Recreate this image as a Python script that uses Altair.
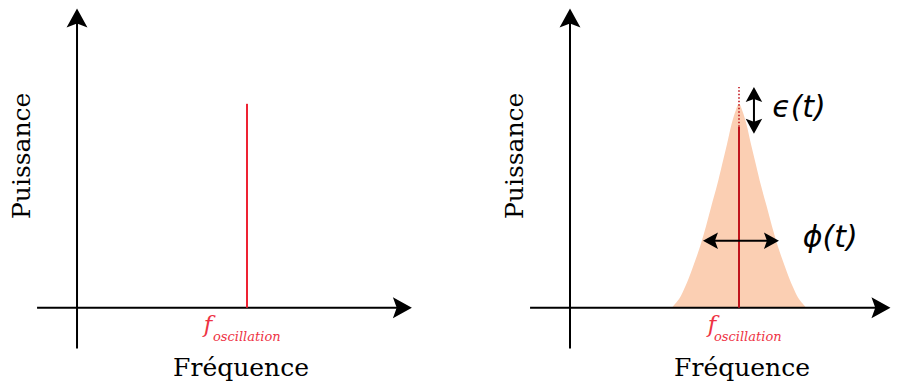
import altair as alt
import pandas as pd

# ---------------- values (frequency units: origin 0, f_osc ~ 1; power units: peak ~ 1)
f_osc = [1.0, 0.994]                 # left panel, right panel
line_top = [1.0, 0.887]              # top of solid red line (left, right)
dotted_top = 1.083                   # dotted continuation (right panel)
spec_freq = [0.600, 0.620, 0.647, 0.676, 0.723, 0.765, 0.800, 0.832, 0.865, 0.894,
             0.923, 0.950, 0.976, 0.994,
             1.012, 1.038, 1.065, 1.094, 1.123, 1.156, 1.188, 1.223, 1.265, 1.312,
             1.341, 1.368, 1.388]
spec_power = [0.0, 0.02, 0.05, 0.1, 0.2, 0.3, 0.4, 0.5, 0.6, 0.7,
              0.8, 0.9, 0.97, 1.0,
              0.97, 0.9, 0.8, 0.7, 0.6, 0.5, 0.4, 0.3, 0.2, 0.1,
              0.05, 0.02, 0.0]
eps_range = [0.853, 1.083]           # epsilon(t) arrow (power units)
eps_x = 1.082
phi_range = [0.782, 1.229]           # phi(t) arrow (frequency units)
phi_y = 0.328

x_label = "Fréquence"
y_label = "Puissance"
f_main = "f"
f_sub = "oscillation"
eps_label = "ϵ(t)"
phi_label = "ϕ(t)"

# ---------------- layout constants
XDOM = {"L": [-0.406, 2.0], "R": [-0.4, 1.894]}
WID = {"L": 409, "R": 390}
YDOM = [-0.34, 1.47]
HEIGHT = 369
AX_X0, AX_Y0 = -0.235, -0.2
AX_XTIP = {"L": 1.97, "R": 1.885}
AX_YTIP = 1.468
FLAB = {"L": (0.771, 0.8), "R": (0.835, 0.847)}
XLAB_X = {"L": 0.965, "R": 1.012}

RED = {"L": "#ee2233", "R": "#c0141c"}
TXT_RED = "#ee3344"
PEACH = "#fbcfb3"
ARROW = "M0,0 L1.1,2 L0,1.6 L-1.1,2 Z"


def panel(side):
    xs = alt.Scale(domain=XDOM[side], nice=False, zero=False)
    ys = alt.Scale(domain=YDOM, nice=False, zero=False)
    X = lambda f: alt.X(f, type="quantitative", scale=xs, axis=None)
    Y = lambda f: alt.Y(f, type="quantitative", scale=ys, axis=None)
    layers = []
    i = 0 if side == "L" else 1

    if side == "R":
        area = pd.DataFrame({"x": spec_freq, "y": spec_power})
        layers.append(alt.Chart(area).mark_area(color=PEACH, interpolate="monotone", opacity=1)
                      .encode(x=X("x"), y=Y("y")))

    # axes lines
    xtip, ytip = AX_XTIP[side], AX_YTIP
    axes = pd.DataFrame({
        "x": [AX_X0, 0.0], "x2": [xtip - 0.06, 0.0],
        "y": [0.0, AX_Y0], "y2": [0.0, ytip - 0.05]})
    layers.append(alt.Chart(axes).mark_rule(color="black", strokeWidth=2)
                  .encode(x=X("x"), x2="x2", y=Y("y"), y2="y2"))
    heads = pd.DataFrame({"x": [xtip, 0.0], "y": [0.0, ytip], "a": [90, 0]})
    layers.append(alt.Chart(heads).mark_point(shape=ARROW, filled=True, color="black",
                                              opacity=1, size=361, strokeWidth=0)
                  .encode(x=X("x"), y=Y("y"), angle=alt.Angle("a:Q", scale=None)))

    # red line
    red = pd.DataFrame({"x": [f_osc[i]], "y": [0.0], "y2": [line_top[i]]})
    layers.append(alt.Chart(red).mark_rule(color=RED[side], strokeWidth=2)
                  .encode(x=X("x"), y=Y("y"), y2="y2"))
    if side == "R":
        dot = pd.DataFrame({"x": [f_osc[i]], "y": [line_top[i]], "y2": [dotted_top]})
        layers.append(alt.Chart(dot).mark_rule(color=RED[side], strokeWidth=1.6, strokeDash=[1.5, 2])
                      .encode(x=X("x"), y=Y("y"), y2="y2"))
        # epsilon arrow
        ea = pd.DataFrame({"x": [eps_x], "y": [eps_range[0] + 0.05], "y2": [eps_range[1] - 0.05]})
        layers.append(alt.Chart(ea).mark_rule(color="black", strokeWidth=2)
                      .encode(x=X("x"), y=Y("y"), y2="y2"))
        # phi arrow
        pa = pd.DataFrame({"x": [phi_range[0] + 0.05], "x2": [phi_range[1] - 0.05], "y": [phi_y]})
        layers.append(alt.Chart(pa).mark_rule(color="black", strokeWidth=2)
                      .encode(x=X("x"), x2="x2", y=Y("y")))
        sh = pd.DataFrame({"x": [eps_x, eps_x, phi_range[0], phi_range[1]],
                           "y": [eps_range[1], eps_range[0], phi_y, phi_y],
                           "a": [0, 180, 270, 90]})
        layers.append(alt.Chart(sh).mark_point(shape=ARROW, filled=True, color="black",
                                               opacity=1, size=225, strokeWidth=0)
                      .encode(x=X("x"), y=Y("y"), angle=alt.Angle("a:Q", scale=None)))
        tx = pd.DataFrame({"x": [1.347, 1.53], "y": [0.98, 0.343], "t": [eps_label, phi_label]})
        layers.append(alt.Chart(tx).mark_text(font="DejaVu Sans", fontSize=30, fontStyle="italic",
                                              color="black", align="center", baseline="middle")
                      .encode(x=X("x"), y=Y("y"), text="t:N"))

    # f_oscillation label
    fx, sx = FLAB[side]
    fm = pd.DataFrame({"x": [fx], "y": [-0.083], "t": [f_main]})
    layers.append(alt.Chart(fm).mark_text(font="DejaVu Serif", fontStyle="italic", fontSize=23,
                                          color=TXT_RED, align="center", baseline="middle")
                  .encode(x=X("x"), y=Y("y"), text="t:N"))
    fs = pd.DataFrame({"x": [sx], "y": [-0.142], "t": [f_sub]})
    layers.append(alt.Chart(fs).mark_text(font="DejaVu Serif", fontStyle="italic", fontSize=13,
                                          color=TXT_RED, align="left", baseline="middle")
                  .encode(x=X("x"), y=Y("y"), text="t:N"))

    # axis titles
    xl = pd.DataFrame({"x": [XLAB_X[side]], "y": [-0.333], "t": [x_label]})
    layers.append(alt.Chart(xl).mark_text(font="DejaVu Serif", fontSize=25, color="black",
                                          align="center", baseline="alphabetic")
                  .encode(x=X("x"), y=Y("y"), text="t:N"))
    yl = pd.DataFrame({"x": [-0.324], "y": [0.745], "t": [y_label]})
    layers.append(alt.Chart(yl).mark_text(font="DejaVu Serif", fontSize=25, color="black",
                                          align="center", baseline="middle", angle=270)
                  .encode(x=X("x"), y=Y("y"), text="t:N"))

    return alt.layer(*layers).properties(width=WID[side], height=HEIGHT)


chart = (alt.hconcat(panel("L"), panel("R"), spacing=85, bounds="flush")
         .properties(padding=0, background="white")
         .configure_view(stroke=None))

chart.save("out.html", embed_options={"renderer": "svg", "actions": False})
